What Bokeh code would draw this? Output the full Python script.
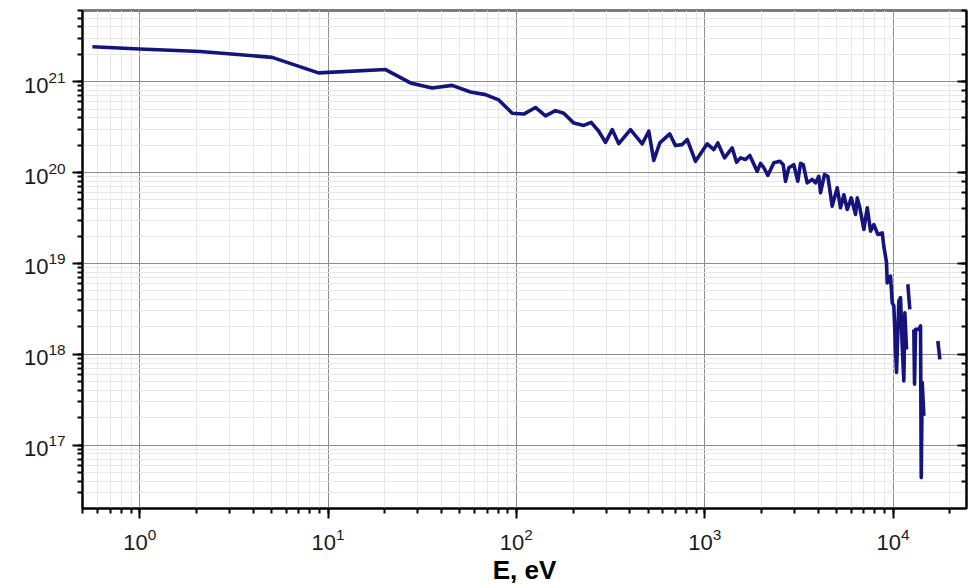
import math
from bokeh.plotting import figure
from bokeh.models import LogAxis, LogTicker
from bokeh.embed import file_html
from bokeh.resources import INLINE

nan = float("nan")

# Energy (eV); NaN marks breaks in the curve
energy_eV = [
    0.561, 1.0, 2.10, 5.05, 8.89, 20.2, 22.8, 27.4, 35.7, 45.6,
    57.0, 68.5, 80.6, 95.0, 109.5, 126.3, 142.8, 161.3, 178.5, 201.8,
    228, 249.5, 273.9, 297.2, 322.8, 349.8, 403.6, 465.6, 504.9, 536.6,
    577.6, 652.6, 699.8, 759.5, 807.4, 893.6, 1031, 1117.5, 1174, 1274,
    1399, 1476, 1549, 1647, 1736, 1900, 1979, 2061, 2163, 2328,
    2506, 2612, 2686, 2797, 2972, 3122, 3227, 3336, 3502, 3723,
    3876, 4036, 4121, 4326, 4506, 4753, 5053, 5260, 5481, 5713,
    5998, 6325, 6456, 6663, 6998, 7297, 7595, 7907, 8300, 8763,
    8932, 9237, 9312, 9698, 9901, 10098, 10437, 10735, 10960, 11190,
    11414, 11553, 11795, nan, 11984, 12274, nan, 12896, 13006, 13166,
    13709, 13996, 14116, 14289, 14575, nan, 17298, 17727,
]

flux = [
    2.42e21, 2.29e21, 2.15e21, 1.85e21, 1.25e21, 1.36e21, 1.19e21, 9.7e20, 8.5e20, 9.1e20,
    7.7e20, 7.2e20, 6.3e20, 4.5e20, 4.4e20, 5.2e20, 4.2e20, 4.8e20, 4.5e20, 3.5e20,
    3.3e20, 3.57e20, 2.85e20, 2.15e20, 2.97e20, 2.08e20, 2.97e20, 2.07e20, 2.85e20, 1.36e20,
    2.12e20, 2.66e20, 1.98e20, 2.03e20, 2.31e20, 1.33e20, 2.07e20, 1.79e20, 2.12e20, 1.45e20,
    1.87e20, 1.30e20, 1.45e20, 1.39e20, 1.54e20, 1.03e20, 1.26e20, 1.13e20, 9.3e19, 1.28e20,
    1.33e20, 1.22e20, 8.0e19, 1.13e20, 1.22e20, 8.0e19, 1.26e20, 1.22e20, 7.7e19, 8.4e19,
    7.7e19, 9.1e19, 6.0e19, 9.5e19, 9.1e19, 4.27e19, 6.8e19, 4.1e19, 5.7e19, 3.92e19,
    5.27e19, 3.46e19, 5.27e19, 4.1e19, 2.37e19, 4.1e19, 2.27e19, 2.68e19, 2.09e19, 2.17e19,
    1.55e19, 1.02e19, 6.1e18, 7.25e18, 3.7e18, 3.4e18, 6.3e17, 3.86e18, 4.2e18, 1.23e18,
    5.1e17, 2.87e18, 1.13e18, nan, 5.9e18, 3.12e18, nan, 1.88e18, 4.7e17, 1.88e18,
    1.88e18, 2.05e18, 4.4e16, 4.9e17, 2.1e17, nan, 1.4e18, 8.8e17,
]

assert len(energy_eV) == len(flux)

x_limits = (0.497, 24550)
y_limits = (2.01e16, 6.07e21)
x_label = "E, eV"

FONT = "Liberation Sans"
LINE_COLOR = "#14147c"

p = figure(
    width=969, height=587,
    x_axis_type="log", y_axis_type="log",
    x_range=x_limits, y_range=y_limits,
    output_backend="svg", toolbar_location=None,
    min_border_left=82, min_border_right=3,
    min_border_top=10, min_border_bottom=77,
    background_fill_color="white", border_fill_color="white",
)

p.outline_line_color = "black"
p.outline_line_width = 2

# grids
for g in (p.xgrid[0], p.ygrid[0]):
    g.grid_line_color = "#8c8c8c"
    g.grid_line_width = 1
    g.minor_grid_line_color = "#e8e8e8"
    g.minor_grid_line_width = 1

# bottom axis
xa = p.xaxis[0]
xa.axis_label = x_label
xa.axis_label_text_font = FONT
xa.axis_label_text_font_style = "bold"
xa.axis_label_text_font_size = "26px"
xa.axis_label_text_color = "black"
xa.axis_label_standoff = 2
xa.major_label_text_font = FONT
xa.major_label_text_font_size = "22px"
xa.major_label_text_color = "#1a1a1a"
xa.major_label_standoff = 9
xa.axis_line_width = 2
xa.major_tick_line_width = 2
xa.minor_tick_line_width = 2
xa.major_tick_out = 10
xa.major_tick_in = 0
xa.minor_tick_out = 5
xa.minor_tick_in = 0

# left axis
ya = p.yaxis[0]
ya.major_label_text_font = FONT
ya.major_label_text_font_size = "22px"
ya.major_label_text_color = "#1a1a1a"
ya.major_label_standoff = 7
ya.axis_line_width = 2
ya.major_tick_line_width = 2
ya.minor_tick_line_width = 2
ya.major_tick_out = 10
ya.major_tick_in = 0
ya.minor_tick_out = 5
ya.minor_tick_in = 0

# right axis: inward ticks only, invisible labels
ra = LogAxis(ticker=LogTicker())
ra.major_label_text_font_size = "1px"
ra.major_label_text_alpha = 0
ra.major_label_standoff = 0
ra.axis_line_width = 2
ra.major_tick_line_width = 2
ra.minor_tick_line_width = 2
ra.major_tick_in = 9
ra.major_tick_out = 0
ra.minor_tick_in = 5
ra.minor_tick_out = 0
p.add_layout(ra, "right")

p.line(energy_eV, flux, line_color=LINE_COLOR, line_width=3.6, line_join="round")

open("out.html", "w").write(file_html(p, INLINE))
